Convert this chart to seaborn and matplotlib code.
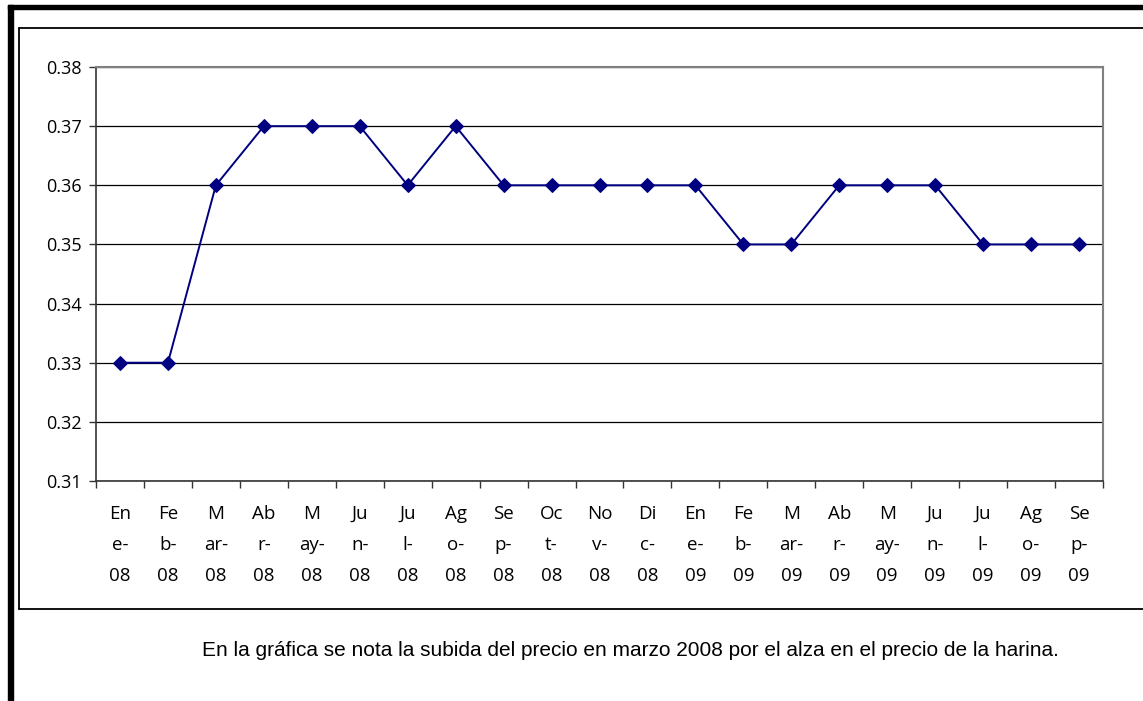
import matplotlib
matplotlib.use("Agg")
import matplotlib.pyplot as plt
from matplotlib.lines import Line2D
from matplotlib.patches import Rectangle
import seaborn as sns
import pandas as pd

# Monthly price series, January 2008 to September 2009
months = ["Ene-08", "Feb-08", "Mar-08", "Abr-08", "May-08", "Jun-08", "Jul-08",
          "Ago-08", "Sep-08", "Oct-08", "Nov-08", "Dic-08", "Ene-09", "Feb-09",
          "Mar-09", "Abr-09", "May-09", "Jun-09", "Jul-09", "Ago-09", "Sep-09"]
tick_labels = ["En\ne-\n08", "Fe\nb-\n08", "M\nar-\n08", "Ab\nr-\n08", "M\nay-\n08",
               "Ju\nn-\n08", "Ju\nl-\n08", "Ag\no-\n08", "Se\np-\n08", "Oc\nt-\n08",
               "No\nv-\n08", "Di\nc-\n08", "En\ne-\n09", "Fe\nb-\n09", "M\nar-\n09",
               "Ab\nr-\n09", "M\nay-\n09", "Ju\nn-\n09", "Ju\nl-\n09", "Ag\no-\n09",
               "Se\np-\n09"]
prices = [0.33, 0.33, 0.36, 0.37, 0.37, 0.37, 0.36, 0.37, 0.36, 0.36, 0.36,
          0.36, 0.36, 0.35, 0.35, 0.36, 0.36, 0.36, 0.35, 0.35, 0.35]
y_ticks = [0.31, 0.32, 0.33, 0.34, 0.35, 0.36, 0.37, 0.38]
caption = ("En la gráfica se nota la subida del precio en marzo 2008 por el alza "
           "en el precio de la harina.")

sns.set_theme(style="white")
plt.rcParams["font.family"] = ["Open Sans", "DejaVu Sans"]
plt.rcParams["text.color"] = "black"
plt.rcParams["xtick.color"] = "black"
plt.rcParams["ytick.color"] = "black"

df = pd.DataFrame({"pos": range(len(months)), "mes": months, "precio": prices})

W, H = 1143, 701
fig = plt.figure(figsize=(W / 100, H / 100), dpi=100)
fig.patch.set_facecolor("white")

def fx(px):
    return px / W

def fy(py):
    return 1 - py / H

# page border (thick, top and left) and chart frame
fig.patches.append(Rectangle((fx(8), fy(701)), fx(5), fy(5) - fy(701),
                             transform=fig.transFigure, color="black", zorder=0))
fig.patches.append(Rectangle((fx(8), fy(9)), fx(1143) - fx(8), fy(5) - fy(9),
                             transform=fig.transFigure, color="black", zorder=0))
frame_kw = dict(transform=fig.transFigure, color="black", lw=1.3)
fig.add_artist(Line2D([fx(19), fx(1143)], [fy(28), fy(28)], **frame_kw))
fig.add_artist(Line2D([fx(19), fx(1143)], [fy(609), fy(609)], **frame_kw))
fig.add_artist(Line2D([fx(19), fx(19)], [fy(28), fy(609)], **frame_kw))

ax = fig.add_axes([fx(96), fy(481), fx(1103) - fx(96), fy(67) - fy(481)])
sns.lineplot(data=df, x="pos", y="precio", ax=ax, color="#000080", lw=1.4,
             marker="D", markersize=7.5, markeredgecolor="#000080",
             markerfacecolor="#000080", zorder=3)

ax.set_xlim(-0.5, len(months) - 0.5)
ax.set_ylim(y_ticks[0], y_ticks[-1])
ax.set_yticks(y_ticks)
ax.set_yticklabels([f"{v:.2f}" for v in y_ticks], fontsize=13, color="black")
ax.set_xticks(range(len(months)))
ax.set_xticklabels(tick_labels, fontsize=13.5, linespacing=1.95, color="black")
ax.set_xticks([i - 0.5 for i in range(len(months) + 1)], minor=True)
ax.tick_params(axis="x", which="major", length=0, pad=17)
ax.tick_params(axis="x", which="minor", length=5, width=1, color="#333333",
               direction="out", bottom=True)
ax.tick_params(axis="y", length=5, width=1, color="#333333", direction="out",
               left=True, pad=5)
ax.set_xlabel("")
ax.set_ylabel("")

ax.grid(axis="y", color="black", lw=0.9)
ax.grid(axis="x", visible=False)
for side in ("left", "bottom"):
    ax.spines[side].set_color("#333333")
    ax.spines[side].set_linewidth(1.2)
for side in ("top", "right"):
    ax.spines[side].set_color("#808080")
    ax.spines[side].set_linewidth(1.5)

fig.text(fx(630), fy(650), caption, ha="center", va="center", fontsize=15,
         color="black", family=["Liberation Sans", "DejaVu Sans"])

fig.savefig("out.png", dpi=100)
